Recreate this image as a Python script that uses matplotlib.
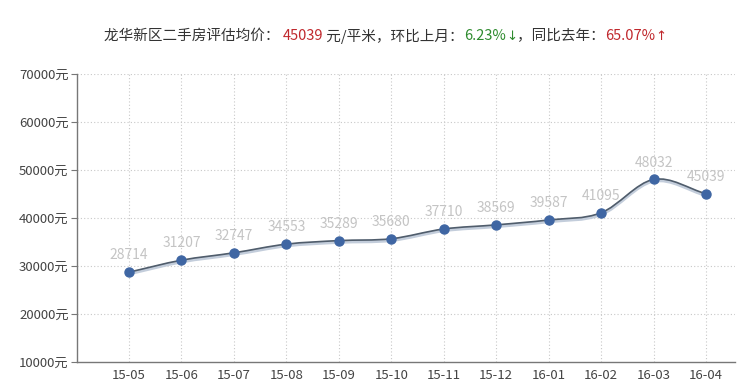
import matplotlib
matplotlib.use("Agg")
import matplotlib.pyplot as plt
from matplotlib.path import Path
from matplotlib.patches import PathPatch
import matplotlib.transforms as mtransforms
import numpy as np

plt.rcParams['font.family'] = ['Noto Sans CJK SC', 'DejaVu Sans']

months = ["15-05", "15-06", "15-07", "15-08", "15-09", "15-10", "15-11", "15-12",
          "16-01", "16-02", "16-03", "16-04"]
prices = [28714, 31207, 32747, 34553, 35289, 35680, 37710, 38569, 39587, 41095, 48032, 45039]
yticks = [10000, 20000, 30000, 40000, 50000, 60000, 70000]
ytick_labels = [f"{v}元" for v in yticks]

title_parts = [("龙华新区二手房评估均价： ", "#333333", None),
               ("45039", "#c0282d", None),
               (" 元/平米，环比上月：", "#333333", None),
               ("6.23%", "#2e8b2e", None),
               ("↓", "#2e8b2e", "DejaVu Sans"),
               ("，同比去年：", "#333333", None),
               ("65.07%", "#c0282d", None),
               ("↑", "#c0282d", "DejaVu Sans")]

W, H = 739, 386
fig = plt.figure(figsize=(W / 100, H / 100), dpi=100)
ax = fig.add_axes([77 / W, 1 - 362 / H, (735 - 77) / W, (362 - 74) / H])

x = np.arange(len(months))
y = np.array(prices, dtype=float)

ax.set_xlim(-0.99, 11.55)
ax.set_ylim(10000, 70000)

# grid
for xi in x:
    ax.axvline(xi, color="#c8c8c8", lw=0.8, ls=(0, (1, 2)), zorder=1)
for yv in yticks[1:]:
    ax.axhline(yv, color="#c8c8c8", lw=0.8, ls=(0, (1, 2)), zorder=1)

# smooth spline path (Bezier through data points)
verts = [(x[0], y[0])]
codes = [Path.MOVETO]
n = len(x)
def tangent(i):
    if i == 0:
        return (x[1] - x[0], y[1] - y[0])
    if i == n - 1:
        return (x[-1] - x[-2], y[-1] - y[-2])
    return ((x[i + 1] - x[i - 1]) / 2, (y[i + 1] - y[i - 1]) / 2)
for i in range(n - 1):
    t0 = tangent(i)
    t1 = tangent(i + 1)
    c1 = (x[i] + t0[0] / 3, y[i] + t0[1] / 3)
    c2 = (x[i + 1] - t1[0] / 3, y[i + 1] - t1[1] / 3)
    verts += [c1, c2, (x[i + 1], y[i + 1])]
    codes += [Path.CURVE4] * 3
path = Path(verts, codes)

shadow_tr = ax.transData + mtransforms.ScaledTranslation(0, -1.5 / 100, fig.dpi_scale_trans)
ax.add_patch(PathPatch(path, fill=False, ec="#c3cddb", lw=2.5, transform=shadow_tr, zorder=2))
ax.add_patch(PathPatch(path, fill=False, ec="#505d6c", lw=1.2, zorder=3))

ax.plot(x, y, ls="none", marker="o", ms=6.5, mfc="#3f66a3", mec="#3f66a3", zorder=4)

for xi, yi in zip(x, y):
    ax.annotate(f"{int(yi)}", (xi, yi), xytext=(0, 7), textcoords="offset points",
                ha="center", va="bottom", fontsize=10, color="#c4c4c4", zorder=5)

# axes styling
for s in ["top", "right"]:
    ax.spines[s].set_visible(False)
ax.spines["left"].set_color("#777777")
ax.spines["bottom"].set_color("#777777")
ax.spines["left"].set_linewidth(1)
ax.spines["bottom"].set_linewidth(1)

ax.set_xticks(x)
ax.set_xticklabels(months, fontsize=9.5, color="#444444")
ax.tick_params(axis="x", length=0, pad=5)
ax.set_yticks(yticks)
ax.set_yticklabels(ytick_labels, fontsize=9.5, color="#444444")
ax.tick_params(axis="y", length=4, color="#777777", pad=2)

# title with coloured parts
fig.canvas.draw()
renderer = fig.canvas.get_renderer()
texts = []
widths = []
for s, c, fam in title_parts:
    kw = {}
    if fam:
        kw["family"] = [fam]
    t = fig.text(0, 0, s, color=c, fontsize=10.5 if not fam else 9.5, ha="left", va="center", **kw)
    bb = t.get_window_extent(renderer)
    widths.append(bb.width)
    texts.append(t)
total = sum(widths)
start = 385 - total / 2
cur = start
for t, w in zip(texts, widths):
    t.set_position((cur / W, 1 - 36 / H))
    cur += w

fig.savefig("out.png", dpi=100)
